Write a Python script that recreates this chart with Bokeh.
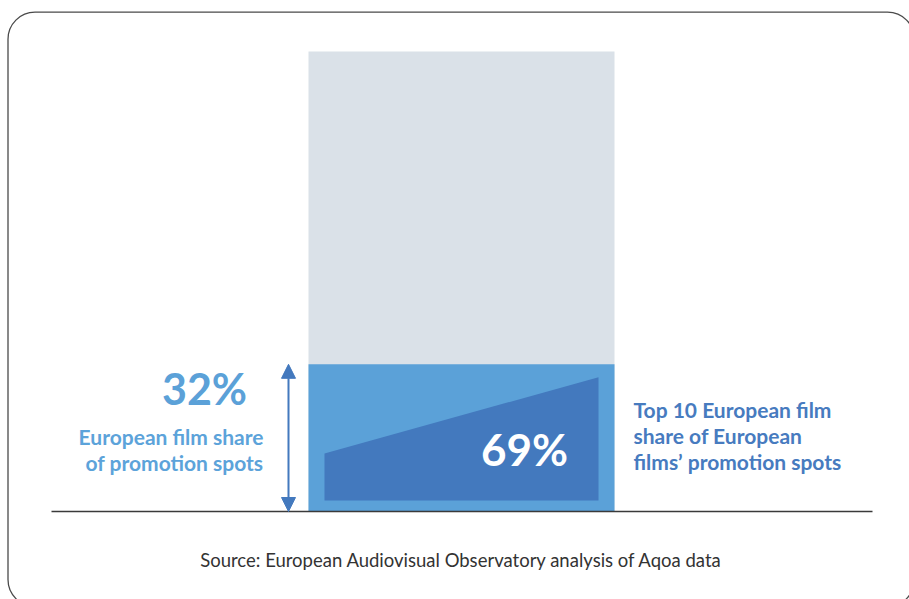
from bokeh.plotting import figure
from bokeh.models import Range1d, BoxAnnotation, Arrow, NormalHead, ColumnDataSource
from bokeh.core.properties import value
from bokeh.embed import file_html
from bokeh.resources import INLINE

# ---- data ----
total_share = [100]          # whole of promotion spots
european_share = [32]        # European film share of promotion spots (%)
top10_share = [69]           # Top 10 European film share of European films' spots (%)
left_label = ["European film share", "of promotion spots"]
right_label = ["Top 10 European film", "share of European", "films\u2019 promotion spots"]
source_text = "Source: European Audiovisual Observatory analysis of Aqoa data"

# ---- layout helpers (pixels -> data units) ----
W, H = 909, 599
BASE_PX = 511          # pixel row of the 0 line
PX_PER_UNIT = 4.6      # pixels per percentage point


def ypx(pix):
    return (BASE_PX - pix) / PX_PER_UNIT


def ytxt(baseline_pix, size):
    # compensate svg baseline placement
    return ypx(baseline_pix - 0.38 * size)


FONT = value("Lato")
LIGHT = "#5ba1d8"
DARK = "#4379be"
GREY = "#dae1e8"

p = figure(width=W, height=H, output_backend="svg", toolbar_location=None,
           x_range=Range1d(0, W), y_range=Range1d(ypx(H), ypx(0)),
           min_border=0, min_border_left=0, min_border_right=0,
           min_border_top=0, min_border_bottom=0)
p.axis.visible = False
p.xgrid.visible = False
p.ygrid.visible = False
p.outline_line_color = None
p.background_fill_color = "white"
p.border_fill_color = "white"

# rounded frame
p.add_layout(BoxAnnotation(left=7.5, right=914, top=ypx(11.7), bottom=ypx(606),
                           fill_alpha=0, line_color="#4a4a4a", line_alpha=1.0,
                           line_width=1.3, border_radius=27))

# bars
bar_x = 461
bar_w = 306
p.vbar(x=[bar_x], top=total_share, bottom=0, width=bar_w, fill_color=GREY, line_color=None)
p.vbar(x=[bar_x], top=european_share, bottom=0, width=bar_w, fill_color=LIGHT, line_color=None)

# trapezoid: area = top10 share of the inset rectangle
inset_x = 16
inset_bottom = 2.4
inset_top = european_share[0] - 2.8
h = inset_top - inset_bottom
frac = top10_share[0] / 100.0
left_h = (2 * frac - 1) * h
x0 = bar_x - bar_w / 2 + inset_x
x1 = bar_x + bar_w / 2 - inset_x
p.patch(x=[x0, x1, x1, x0], y=[inset_bottom, inset_bottom, inset_top, inset_bottom + left_h],
        fill_color=DARK, line_color=None)

# baseline
p.line(x=[51, 872], y=[0, 0], line_color="#3a3a3a", line_width=1.6)

# double arrow
p.add_layout(Arrow(x_start=288, y_start=0, x_end=288, y_end=european_share[0],
                   line_color=DARK, line_width=2,
                   start=NormalHead(size=14, fill_color=DARK, line_color=DARK),
                   end=NormalHead(size=14, fill_color=DARK, line_color=DARK)))

# big numbers
p.text(x=[204], y=[ytxt(404.5, 43)], text=[f"{european_share[0]}%"], text_font=FONT,
       text_font_style="bold", text_font_size="43px", text_color=LIGHT,
       text_align="center", text_baseline="alphabetic")
p.text(x=[524], y=[ytxt(465, 44)], text=[f"{top10_share[0]}%"], text_font=FONT,
       text_font_style="bold", text_font_size="44px", text_color="white",
       text_align="center", text_baseline="alphabetic")

# left label
src_l = ColumnDataSource(dict(x=[263, 263], y=[ytxt(444, 21), ytxt(470, 21)], t=left_label))
p.text(x="x", y="y", text="t", source=src_l, text_font=FONT, text_font_style="bold",
       text_font_size="21px", text_color="#5ca3da", text_align="right",
       text_baseline="alphabetic")

# right label
src_r = ColumnDataSource(dict(x=[633] * 3, y=[ytxt(417, 21), ytxt(443, 21), ytxt(469, 21)],
                              t=right_label))
p.text(x="x", y="y", text="t", source=src_r, text_font=FONT, text_font_style="bold",
       text_font_size="21px", text_color="#477bbf", text_align="left",
       text_baseline="alphabetic")

# source
p.text(x=[461], y=[ytxt(567, 18.5)], text=[source_text], text_font=FONT,
       text_font_size="18.5px", text_color="#333333", text_align="center",
       text_baseline="alphabetic")

open("out.html", "w").write(file_html(p, INLINE))
